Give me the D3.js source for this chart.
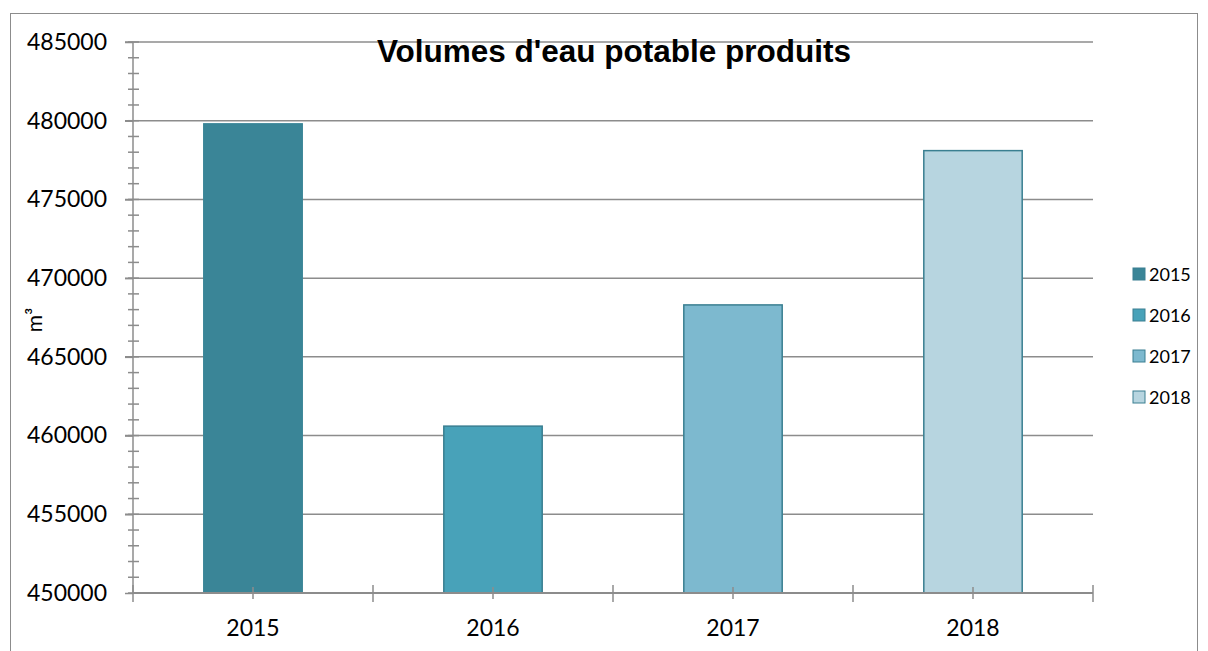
<!DOCTYPE html>
<html>
<head>
<meta charset="utf-8">
<script src="https://cdn.jsdelivr.net/npm/d3@7"></script>
<style>
  body { margin: 0; background: #fff; }
  text { font-family: Lato, "Open Sans", sans-serif; fill: #000; }
</style>
</head>
<body>
<div id="chart"></div>
<script>

// Data
var years = ['2015', '2016', '2017', '2018'];
var volumes = [479800, 460600, 468300, 478100];
var colors = ['#3a8597', '#48a2b9', '#7db9cf', '#b7d5e0'];
var yTicks = [450000, 455000, 460000, 465000, 470000, 475000, 480000, 485000];

var W = 1208, H = 651;
var margin = {top: 42, left: 133, right: 115, bottom: 58};
var width = W - margin.left - margin.right;
var height = H - margin.top - margin.bottom;

var svg = d3.select( '#chart' )
            .append( 'svg' )
            .attr( 'width', W )
            .attr( 'height', H );

// Outer frame
svg.append( 'rect' )
   .attr( 'x', 10.5 ).attr( 'y', 13.5 )
   .attr( 'width', 1187 ).attr( 'height', 660 )
   .attr( 'fill', 'none' )
   .attr( 'stroke', '#8c8c8c' )
   .attr( 'stroke-width', 1 );

var g = svg.append( 'g' )
           .attr( 'transform', 'translate(' + margin.left + ',' + margin.top + ')' );

var x = d3.scaleBand().domain( years ).range( [0, width] ).paddingInner( 0.59 ).paddingOuter( 0.295 );
var xCat = d3.scaleBand().domain( years ).range( [0, width] );
var y = d3.scaleLinear().domain( [450000, 485000] ).range( [height, 0] );

// Gridlines
g.selectAll( '.grid' )
 .data( yTicks.slice( 1 ) ).enter()
 .append( 'line' )
 .attr( 'x1', -8 ).attr( 'x2', width )
 .attr( 'y1', function ( d ) { return y( d ); } )
 .attr( 'y2', function ( d ) { return y( d ); } )
 .attr( 'stroke', '#8c8c8c' )
 .attr( 'stroke-width', 1.5 );

// Minor ticks on y axis
g.selectAll( '.minor' )
 .data( d3.range( 450000, 485001, 1000 ) ).enter()
 .append( 'line' )
 .attr( 'x1', -5 ).attr( 'x2', 6 )
 .attr( 'y1', function ( d ) { return y( d ); } )
 .attr( 'y2', function ( d ) { return y( d ); } )
 .attr( 'stroke', '#8c8c8c' )
 .attr( 'stroke-width', 1.5 );

// Bars
g.selectAll( '.bar' )
 .data( volumes ).enter()
 .append( 'rect' )
 .attr( 'x', function ( d, i ) { return x( years[i] ); } )
 .attr( 'y', function ( d ) { return y( d ); } )
 .attr( 'width', x.bandwidth() )
 .attr( 'height', function ( d ) { return height - y( d ); } )
 .attr( 'fill', function ( d, i ) { return colors[i]; } )
 .attr( 'stroke', function ( d, i ) { return i == 0 ? colors[0] : '#3a7f91'; } )
 .attr( 'stroke-width', 1.5 );

// Y axis
var yAxis = g.append( 'g' )
             .call( d3.axisLeft( y ).tickValues( yTicks ).tickFormat( d3.format( 'd' ) ).tickSize( 8 ).tickPadding( 18 ) );
yAxis.selectAll( 'line, path' ).attr( 'stroke', '#8c8c8c' ).attr( 'stroke-width', 1.5 );
yAxis.select( '.domain' ).attr( 'd', 'M0,' + height + 'V0' );
yAxis.selectAll( 'text' ).style( 'font-size', '23px' ).style( 'font-family', 'Lato, sans-serif' ).attr( 'fill', '#000' );

// X axis: category boundaries and centre ticks
var xAxis = g.append( 'g' ).attr( 'transform', 'translate(0,' + height + ')' );
xAxis.append( 'line' )
     .attr( 'x1', 0 ).attr( 'x2', width )
     .attr( 'stroke', '#8c8c8c' ).attr( 'stroke-width', 2 );
xAxis.selectAll( '.bound' )
     .data( years.concat( ['end'] ) ).enter()
     .append( 'line' )
     .attr( 'x1', function ( d, i ) { return i * xCat.step(); } )
     .attr( 'x2', function ( d, i ) { return i * xCat.step(); } )
     .attr( 'y1', -8 ).attr( 'y2', 9 )
     .attr( 'stroke', '#8c8c8c' ).attr( 'stroke-width', 1.5 );
xAxis.selectAll( '.centre' )
     .data( years ).enter()
     .append( 'line' )
     .attr( 'x1', function ( d ) { return xCat( d ) + xCat.bandwidth() / 2; } )
     .attr( 'x2', function ( d ) { return xCat( d ) + xCat.bandwidth() / 2; } )
     .attr( 'y1', -6 ).attr( 'y2', 6 )
     .attr( 'stroke', '#8c8c8c' ).attr( 'stroke-width', 1.5 );
xAxis.selectAll( '.xlabel' )
     .data( years ).enter()
     .append( 'text' )
     .attr( 'x', function ( d ) { return xCat( d ) + xCat.bandwidth() / 2; } )
     .attr( 'y', 43 )
     .attr( 'text-anchor', 'middle' )
     .style( 'font-size', '23px' )
     .text( function ( d ) { return d; } );

// Y label
svg.append( 'text' )
   .attr( 'transform', 'translate(42,320) rotate(-90)' )
   .attr( 'text-anchor', 'middle' )
   .style( 'font-size', '21px' )
   .text( 'm³' );

// Title
svg.append( 'text' )
   .attr( 'x', 614 ).attr( 'y', 62 )
   .attr( 'text-anchor', 'middle' )
   .style( 'font-family', '"Liberation Sans", Arial, sans-serif' )
   .style( 'font-size', '31.5px' )
   .style( 'font-weight', 'bold' )
   .text( "Volumes d'eau potable produits" );

// Legend
var legend = svg.selectAll( '.legend' )
                .data( years ).enter()
                .append( 'g' )
                .attr( 'transform', function ( d, i ) { return 'translate(1133,' + ( 268 + i * 41 ) + ')'; } );
legend.append( 'rect' )
      .attr( 'width', 12 ).attr( 'height', 12 )
      .attr( 'fill', function ( d, i ) { return colors[i]; } )
      .attr( 'stroke', '#3a7f91' ).attr( 'stroke-width', 1 );
legend.append( 'text' )
      .attr( 'x', 16 ).attr( 'y', 12.5 )
      .style( 'font-size', '18px' )
      .text( function ( d ) { return d; } );

</script>
</body>
</html>
